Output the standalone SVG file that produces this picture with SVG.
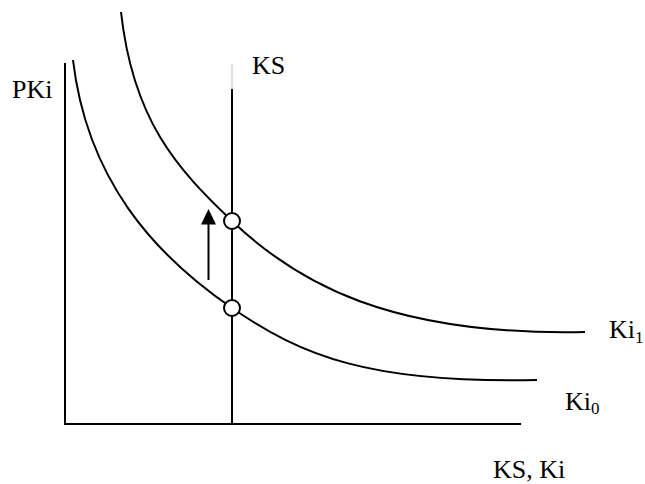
<svg xmlns="http://www.w3.org/2000/svg" width="645" height="484" viewBox="0 0 645 484">
<style>
.ln{fill:none;stroke:#000;stroke-width:2}
.pt{fill:#fff;stroke:#000;stroke-width:2}
.t{font-family:"Liberation Serif","Times New Roman",serif;font-size:26px;fill:#000}
.s{font-size:17px}
</style>
<rect width="645" height="484" fill="#fff"/>
<g id="axes">
<path class="ln" d="M65,63 V424 H521"/>
</g>
<g id="connectors">
<path id="ki0" class="ln" d="M73,60 C87,179.2 153.6,254.3 232,308 C302.1,356.1 370,383.5 537,380"/>
<path id="ki1" class="ln" d="M121,12 C133.1,121.3 177.6,169.3 232,221 C297.25,283 390,336 585,332"/>
<line x1="232" y1="64" x2="232" y2="89" stroke="#bbb" stroke-width="1"/>
<line id="ks" class="ln" x1="232" y1="89" x2="232" y2="424"/>
<line id="shift" x1="208.5" y1="280" x2="208.5" y2="224" stroke="#000" stroke-width="2"/>
<path d="M201,224.5 L208.5,209 L216,224.5 Z" fill="#000"/>
</g>
<g id="e1"><circle class="pt" cx="232" cy="221" r="8"/></g>
<g id="e0"><circle class="pt" cx="232" cy="308" r="8"/></g>
<g id="labels">
<text class="t" x="12" y="98">PKi</text>
<text class="t" x="252" y="74">KS</text>
<text class="t" x="609" y="338">Ki<tspan class="s" dy="5">1</tspan></text>
<text class="t" x="565" y="410">Ki<tspan class="s" dy="4">0</tspan></text>
<text class="t" x="493" y="478">KS, Ki</text>
</g>
</svg>
